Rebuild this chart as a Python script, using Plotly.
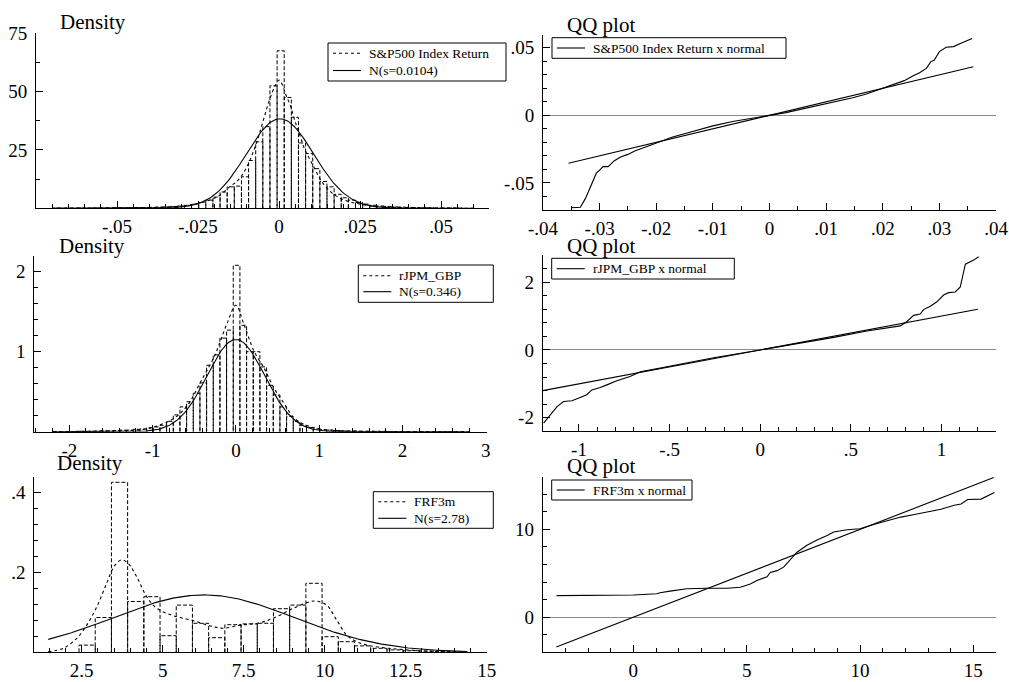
import numpy as np
import plotly.graph_objects as go

W, H = 1009, 682
FONT = "Liberation Serif, Times New Roman, Times, serif"

# ---------------- S&P500 Index Return ----------------
sp_bin_start = -0.0688
sp_bin_width = 0.0022
sp_hist = [0.1, 0.0, 0.0, 0.1, 0.0, 0.1, 0.1, 0.1, 0.2, 0.2,
           0.2, 0.3, 0.3, 0.4, 0.5, 0.6, 0.8, 1.0, 1.3, 1.8,
           2.5, 3.5, 4.8, 7.0, 9.2, 9.5, 13.5, 20.5, 28.5, 35.0,
           52.5, 67.5, 47.5, 39.0, 28.0, 23.5, 17.0, 11.5, 9.2, 6.0,
           4.5, 3.5, 2.5, 1.8, 1.3, 1.0, 0.8, 0.6, 0.5, 0.4,
           0.3, 0.2, 0.2, 0.1, 0.1, 0.1, 0.1]
sp_kde_x = [-0.07, -0.06, -0.05, -0.045, -0.04, -0.035, -0.03, -0.027, -0.024, -0.021,
            -0.019, -0.017, -0.015, -0.013, -0.0115, -0.0095, -0.008, -0.0065, -0.005,
            -0.0035, -0.002, -0.001, 0.0, 0.001, 0.002, 0.0035, 0.005, 0.0065, 0.008,
            0.0095, 0.011, 0.0125, 0.014, 0.016, 0.018, 0.02, 0.0225, 0.025, 0.028,
            0.031, 0.035, 0.04, 0.045, 0.05, 0.055, 0.06]
sp_kde_y = [0.05, 0.08, 0.12, 0.15, 0.3, 0.5, 1.0, 1.6, 2.4, 3.8,
            5.0, 7.0, 9.5, 11.5, 14.0, 19.0, 24.0, 30.0, 37.0,
            44.0, 50.0, 53.0, 55.0, 53.0, 49.0, 44.0, 37.0, 31.0, 25.0,
            21.0, 17.0, 13.0, 10.0, 7.0, 5.0, 3.6, 2.5, 1.8, 1.1,
            0.7, 0.45, 0.3, 0.2, 0.1, 0.05, 0.04]
sp_mean, sp_sd = 0.0003, 0.0104
sp_norm_range = [-0.07, 0.06]
sp_qq_x = [-0.0350, -0.0334, -0.0325, -0.0315, -0.0306, -0.0300, -0.0294, -0.0285,
           -0.0274, -0.0262, -0.0250, -0.0238, -0.0218, -0.0200, -0.0171, -0.0147,
           -0.0124, -0.0100, -0.0065, -0.0029, 0.0, 0.0029, 0.0065, 0.0100, 0.0147,
           0.0171, 0.0199, 0.0224, 0.0238, 0.0253, 0.0265, 0.0277, 0.0285, 0.0291,
           0.0300, 0.0312, 0.0325, 0.0338, 0.0358]
sp_qq_y = [-0.0684, -0.0681, -0.0615, -0.0516, -0.0430, -0.0405, -0.0380, -0.0380,
           -0.0336, -0.0306, -0.0289, -0.0264, -0.0232, -0.0207, -0.0160, -0.0133,
           -0.0105, -0.0078, -0.0045, -0.0017, 0.0, 0.0020, 0.0052, 0.0084, 0.0130,
           0.0158, 0.0198, 0.0232, 0.0257, 0.0291, 0.0316, 0.0348, 0.0398, 0.0410,
           0.0472, 0.0504, 0.0509, 0.0533, 0.0570]
sp_ref = [-0.0355, 0.0360]

# ---------------- rJPM_GBP ----------------
jp_bin_start = -2.192
jp_bin_width = 0.08
jp_hist = [0.003, 0.0, 0.003, 0.003, 0.005, 0.005, 0.008, 0.01, 0.01, 0.015,
           0.02, 0.02, 0.03, 0.035, 0.05, 0.06, 0.08, 0.13, 0.21, 0.31,
           0.375, 0.48, 0.61, 0.83, 0.96, 1.17, 1.27, 2.08, 1.33, 1.0,
           1.0, 0.81, 0.58, 0.46, 0.31, 0.19, 0.13, 0.08, 0.05, 0.035,
           0.025, 0.02, 0.015, 0.01, 0.01, 0.008, 0.005, 0.005, 0.004, 0.003,
           0.003, 0.002, 0.002, 0.002, 0.001, 0.001, 0.001, 0.001, 0.001, 0.0,
           0.0, 0.001]
jp_kde_x = [-2.2, -2.0, -1.5, -1.1, -0.9, -0.74, -0.58, -0.42, -0.26, -0.18, -0.1,
            0.0, 0.1, 0.22, 0.34, 0.46, 0.58, 0.7, 0.82, 0.98, 1.2, 1.6, 2.0, 2.5, 2.8]
jp_kde_y = [0.002, 0.003, 0.01, 0.03, 0.09, 0.17, 0.33, 0.63, 0.94, 1.15, 1.37,
            1.58, 1.33, 1.0, 0.79, 0.54, 0.35, 0.17, 0.09, 0.04, 0.015, 0.005, 0.003, 0.001, 0.001]
jp_mean, jp_sd = 0.0, 0.346
jp_norm_range = [-2.2, 2.8]
jp_qq_x = [-1.195, -1.158, -1.121, -1.085, -1.039, -0.993, -0.957, -0.929, -0.883,
           -0.846, -0.791, -0.718, -0.662, -0.552, -0.423, -0.257, 0.0, 0.221, 0.405,
           0.588, 0.772, 0.809, 0.846, 0.882, 0.900, 0.938, 0.974, 1.011, 1.039, 1.075,
           1.103, 1.131, 1.177, 1.204]
jp_qq_y = [-2.16, -1.92, -1.67, -1.52, -1.50, -1.40, -1.32, -1.18, -1.11,
           -1.03, -0.91, -0.78, -0.64, -0.53, -0.40, -0.23, 0.0, 0.20, 0.37,
           0.56, 0.71, 0.84, 1.02, 1.06, 1.19, 1.29, 1.42, 1.62, 1.69, 1.71,
           1.86, 2.53, 2.65, 2.75]
jp_ref = [-1.2, 1.2]

# ---------------- FRF3m ----------------
fr_bin_start = 2.42
fr_bin_width = 0.5
fr_hist = [0.018, 0.087, 0.425, 0.127, 0.139, 0.0415, 0.118, 0.0725, 0.0365, 0.069,
           0.071, 0.0725, 0.109, 0.118, 0.1725, 0.039, 0.0265, 0.016, 0.01, 0.006,
           0.004, 0.003, 0.002, 0.001]
fr_kde_x = [1.47, 1.935, 2.35, 2.66, 2.97, 3.27, 3.53, 3.74, 3.94, 4.2, 4.51, 4.82,
            5.33, 5.95, 6.56, 6.87, 7.39, 8.01, 8.52, 9.03, 9.55, 9.76, 10.06, 10.37,
            10.68, 10.99, 11.3, 11.81, 12.33, 13.15, 14.39]
fr_kde_y = [0.0017, 0.01, 0.035, 0.068, 0.114, 0.172, 0.218, 0.231, 0.222, 0.189,
            0.139, 0.11, 0.0915, 0.079, 0.064, 0.06, 0.068, 0.074, 0.089, 0.11,
            0.1265, 0.128, 0.118, 0.081, 0.043, 0.0265, 0.018, 0.0115, 0.0075,
            0.003, 0.0005]
fr_mean, fr_sd = 6.27, 2.78
fr_norm_range = [1.47, 14.4]
fr_qq_x = [-3.39, -1.47, 0.0, 1.03, 1.18, 1.62, 2.36, 3.24, 4.13, 4.72, 5.16, 5.45,
           5.90, 6.04, 6.34, 6.63, 6.93, 7.22, 7.66, 8.10, 8.55, 8.84, 9.43, 10.0,
           10.6, 11.21, 11.8, 12.4, 13.13, 13.57, 14.16, 14.46, 14.75, 15.34, 15.93]
fr_qq_y = [2.46, 2.47, 2.52, 2.67, 2.78, 2.97, 3.24, 3.30, 3.30, 3.41, 3.79, 4.17,
           4.60, 5.10, 5.30, 5.70, 6.60, 7.40, 8.20, 8.80, 9.30, 9.70, 9.96, 10.07,
           10.56, 11.0, 11.4, 11.7, 12.1, 12.3, 12.75, 12.9, 13.4, 13.45, 14.2]
fr_ref = [-3.4, 15.9]

# ---------------- axis ticks ----------------
ax1_vals = [-0.05, -0.025, 0, 0.025, 0.05]
ax1_text = ["-.05", "-.025", "0", ".025", ".05"]
ay1_vals = [25, 50, 75]
ay1_text = ["25", "50", "75"]
ax2_vals = [-0.04, -0.03, -0.02, -0.01, 0, 0.01, 0.02, 0.03, 0.04]
ax2_text = ["-.04", "-.03", "-.02", "-.01", "0", ".01", ".02", ".03", ".04"]
ay2_vals = [-0.05, 0, 0.05]
ay2_text = ["-.05", "0", ".05"]
ax3_vals = [-2, -1, 0, 1, 2, 3]
ax3_text = ["-2", "-1", "0", "1", "2", "3"]
ay3_vals = [1, 2]
ay3_text = ["1", "2"]
ax4_vals = [-1, -0.5, 0, 0.5, 1]
ax4_text = ["-1", "-.5", "0", ".5", "1"]
ay4_vals = [-2, 0, 2]
ay4_text = ["-2", "0", "2"]
ax5_vals = [2.5, 5, 7.5, 10, 12.5, 15]
ax5_text = ["2.5", "5", "7.5", "10", "12.5", "15"]
ay5_vals = [0.2, 0.4]
ay5_text = [".2", ".4"]
ax6_vals = [0, 5, 10, 15]
ax6_text = ["0", "5", "10", "15"]
ay6_vals = [0, 10]
ay6_text = ["0", "10"]


def bar_outline(start, width, heights):
    xs, ys = [], []
    for i, h in enumerate(heights):
        left = start + i * width
        right = left + width
        xs += [left, left, right, right, None]
        ys += [0, h, h, 0, None]
    return xs, ys


def normal_curve(mean, sd, lo, hi, n=300):
    x = np.linspace(lo, hi, n)
    return x, np.exp(-0.5 * ((x - mean) / sd) ** 2) / (sd * np.sqrt(2 * np.pi))


def px_dom_x(a, b):
    return [a / W, b / W]


def px_dom_y(top, bottom):
    return [1 - bottom / H, 1 - top / H]


def minor_vals(rng, step):
    lo = np.ceil(rng[0] / step - 1e-9) * step
    return [round(v, 10) for v in np.arange(lo, rng[1] + 1e-12, step)]


def axis(dom, rng, vals, text, minor_step, is_x, zeroline=False):
    return dict(
        domain=dom, range=rng, tickmode="array", tickvals=vals, ticktext=text,
        showline=True, linecolor="black", linewidth=1, mirror=False,
        ticks="inside", ticklen=7, tickwidth=1, tickcolor="black",
        minor=dict(tickmode="array", tickvals=minor_vals(rng, minor_step),
                   ticks="inside", ticklen=4, tickwidth=1, tickcolor="black",
                   showgrid=False),
        showgrid=False, zeroline=zeroline, zerolinecolor="#8a8a8a", zerolinewidth=1,
        tickfont=dict(family=FONT, size=19, color="black"),
        ticklabelstandoff=1 if is_x else 4,
        automargin=False, fixedrange=True,
    )


fig = go.Figure()
DASH_BAR = "4px,2px"
DASH_KDE = "3px,3px"
LW = 1.1

panels = [
    (1, "S&P500 Index Return", sp_bin_start, sp_bin_width, sp_hist, sp_kde_x, sp_kde_y,
     sp_mean, sp_sd, sp_norm_range),
    (3, "rJPM_GBP", jp_bin_start, jp_bin_width, jp_hist, jp_kde_x, jp_kde_y,
     jp_mean, jp_sd, jp_norm_range),
    (5, "FRF3m", fr_bin_start, fr_bin_width, fr_hist, fr_kde_x, fr_kde_y,
     fr_mean, fr_sd, fr_norm_range),
]

for idx, name, b0, bw, hist, kx, ky, m, s, nr in panels:
    xa = "x" if idx == 1 else f"x{idx}"
    ya = "y" if idx == 1 else f"y{idx}"
    hx, hy = bar_outline(b0, bw, hist)
    fig.add_trace(go.Scatter(x=hx, y=hy, mode="lines", xaxis=xa, yaxis=ya,
                             line=dict(color="black", width=1, dash=DASH_BAR),
                             showlegend=False, hoverinfo="skip"))
    fig.add_trace(go.Scatter(x=kx, y=ky, mode="lines", xaxis=xa, yaxis=ya,
                             line=dict(color="black", width=LW, dash=DASH_KDE, shape="spline"),
                             name=name, showlegend=False))
    nx, ny = normal_curve(m, s, nr[0], nr[1])
    fig.add_trace(go.Scatter(x=nx, y=ny, mode="lines", xaxis=xa, yaxis=ya,
                             line=dict(color="black", width=LW),
                             name=f"N(s={s})", showlegend=False))

qq_panels = [
    (2, "S&P500 Index Return x normal", sp_qq_x, sp_qq_y, sp_ref),
    (4, "rJPM_GBP x normal", jp_qq_x, jp_qq_y, jp_ref),
    (6, "FRF3m x normal", fr_qq_x, fr_qq_y, fr_ref),
]
for idx, name, qx, qy, ref in qq_panels:
    xa, ya = f"x{idx}", f"y{idx}"
    fig.add_trace(go.Scatter(x=qx, y=qy, mode="lines", xaxis=xa, yaxis=ya,
                             line=dict(color="black", width=LW),
                             name=name, showlegend=False))
    fig.add_trace(go.Scatter(x=ref, y=ref, mode="lines", xaxis=xa, yaxis=ya,
                             line=dict(color="black", width=LW),
                             showlegend=False, hoverinfo="skip"))

layout = dict(
    template="none",
    width=W, height=H, margin=dict(l=0, r=0, t=0, b=0, autoexpand=False),
    paper_bgcolor="white", plot_bgcolor="white",
    font=dict(family=FONT, color="black"),
    showlegend=False,
    xaxis=axis(px_dom_x(36, 489), [-0.075, 0.0648], ax1_vals, ax1_text, 0.005, True),
    yaxis=axis(px_dom_y(33.3, 208.3), [0, 75], ay1_vals, ay1_text, 12.5, False),
    xaxis2=axis(px_dom_x(543, 996), [-0.04, 0.04], ax2_vals, ax2_text, 0.005, True),
    yaxis2=axis(px_dom_y(35, 210), [-0.0701, 0.0595], ay2_vals, ay2_text, 0.01, False, True),
    xaxis3=axis(px_dom_x(34.3, 486.7), [-2.42, 3.01], ax3_vals, ax3_text, 0.2, True),
    yaxis3=axis(px_dom_y(255.7, 431.7), [0, 2.2], ay3_vals, ay3_text, 0.2, False),
    xaxis4=axis(px_dom_x(542.7, 996), [-1.2, 1.3], ax4_vals, ax4_text, 0.1, True),
    yaxis4=axis(px_dom_y(255, 431), [-2.39, 2.8], ay4_vals, ay4_text, 0.4, False, True),
    xaxis5=axis(px_dom_x(34.3, 486.7), [1.04, 15.0], ax5_vals, ax5_text, 0.5, True),
    yaxis5=axis(px_dom_y(476.7, 652.3), [0, 0.439], ay5_vals, ay5_text, 0.04, False),
    xaxis6=axis(px_dom_x(542.7, 996), [-4, 16], ax6_vals, ax6_text, 1, True),
    yaxis6=axis(px_dom_y(476.7, 652.3), [-4, 16], ay6_vals, ay6_text, 2, False, True),
)
for k in range(1, 7):
    xk = "xaxis" if k == 1 else f"xaxis{k}"
    yk = "yaxis" if k == 1 else f"yaxis{k}"
    layout[xk]["anchor"] = "y" if k == 1 else f"y{k}"
    layout[yk]["anchor"] = "x" if k == 1 else f"x{k}"
fig.update_layout(**layout)

# panel titles
titles = [("Density", 58, 22), ("QQ plot", 565, 25), ("Density", 57, 246),
          ("QQ plot", 565, 246), ("Density", 55, 463), ("QQ plot", 565, 466)]
for text, x, y in titles:
    fig.add_annotation(text=text, x=x / W, y=1 - y / H, xref="paper", yref="paper",
                       xanchor="left", yanchor="middle", showarrow=False,
                       font=dict(family=FONT, size=21, color="black"))

# boxed keys: (box left, top, right, bottom) and entries (label, dashed, row y)
keys = [
    ((328, 43, 506, 81), [("S&P500 Index Return", True, 53.3),
                          (f"N(s={sp_sd})", False, 70.5)]),
    ((552, 37.7, 786, 58.3), [("S&P500 Index Return x normal", False, 48)]),
    ((358.3, 265, 493.3, 302.3), [("rJPM_GBP", True, 275.7),
                                  (f"N(s={jp_sd})", False, 291.7)]),
    ((551.7, 258.3, 734.3, 279), [("rJPM_GBP x normal", False, 268.7)]),
    ((373.3, 491.7, 493.3, 528.3), [("FRF3m", True, 501.7),
                                    (f"N(s={fr_sd})", False, 518.3)]),
    ((551.7, 480, 692, 500), [("FRF3m x normal", False, 490)]),
]
for (bx0, by0, bx1, by1), entries in keys:
    fig.add_shape(type="rect", xref="paper", yref="paper",
                  x0=bx0 / W, x1=bx1 / W, y0=1 - by1 / H, y1=1 - by0 / H,
                  line=dict(color="black", width=1), fillcolor="white", layer="above")
    for label, dashed, ry in entries:
        fig.add_shape(type="line", xref="paper", yref="paper",
                      x0=(bx0 + 5) / W, x1=(bx0 + 33) / W, y0=1 - ry / H, y1=1 - ry / H,
                      line=dict(color="black", width=1.1, dash=DASH_KDE if dashed else "solid"),
                      layer="above")
        fig.add_annotation(text=label, x=(bx0 + 39) / W, y=1 - ry / H,
                           xref="paper", yref="paper", xanchor="left", yanchor="middle",
                           showarrow=False, font=dict(family=FONT, size=13.5, color="black"))

fig.write_html("out.html")
